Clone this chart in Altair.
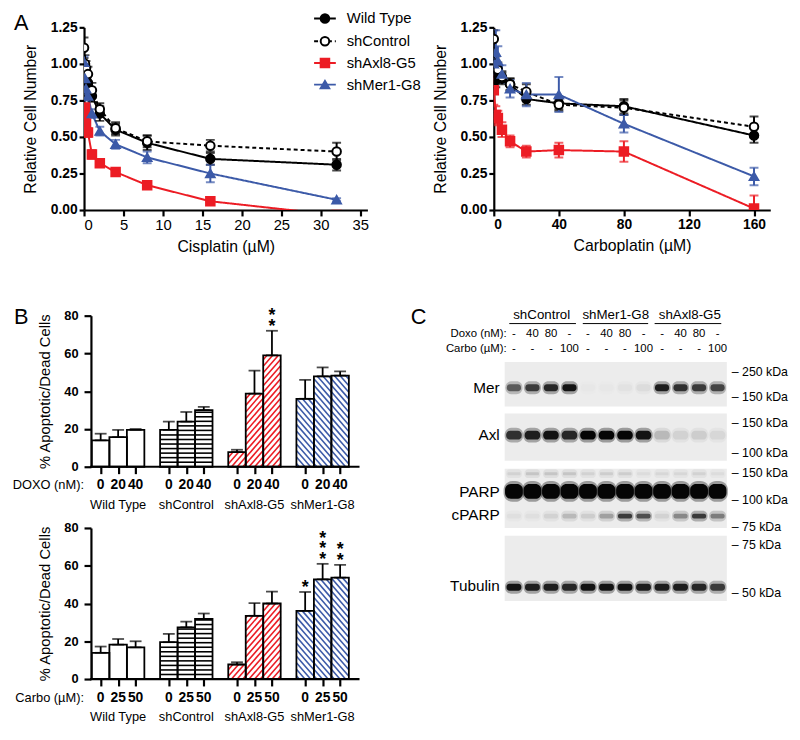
import altair as alt
import pandas as pd

FONT = "Liberation Sans"
RED = "#ec1c24"
BLUE = "#3c5aa8"

# ---------------- Panel A data ----------------
SERIES = ["Wild Type", "shControl", "shAxl8-G5", "shMer1-G8"]
S_COLORS = ["#000000", "#000000", RED, BLUE]
S_FILLS = ["#000000", "#ffffff", RED, BLUE]
S_SHAPES = ["circle", "circle", "square", "triangle-up"]
S_DASH = [[1, 0], [4, 3], [1, 0], [1, 0]]

cis_dose = [0, 0.125, 0.25, 0.5, 1, 2, 4, 8, 16, 32]
cis_wt = [1.00, 0.93, 0.90, 0.87, 0.78, 0.66, 0.55, 0.46, 0.35, 0.31]
cis_ctl = [1.11, 1.00, 0.97, 0.93, 0.82, 0.69, 0.56, 0.47, 0.44, 0.40]
cis_axl = [0.65, 0.70, 0.59, 0.53, 0.38, 0.32, 0.26, 0.17, 0.06, -0.035]
cis_mer = [1.01, 0.90, 0.83, 0.78, 0.66, 0.54, 0.45, 0.36, 0.25, 0.07]
cis_wt_e = [0.10, 0.06, 0.05, 0.05, 0.04, 0.05, 0.04, 0.05, 0.04, 0.04]
cis_ctl_e = [0.07, 0.06, 0.05, 0.05, 0.05, 0.04, 0.04, 0.04, 0.04, 0.06]
cis_axl_e = [0.04, 0.03, 0.03, 0.03, 0.03, 0.02, 0.02, 0.01, 0.01, 0.01]
cis_mer_e = [0.04, 0.05, 0.04, 0.03, 0.03, 0.03, 0.03, 0.04, 0.06, 0.01]

car_dose = [0, 1.25, 2.5, 5, 10, 20, 40, 80, 160]
car_wt = [1.00, 0.89, 0.93, 0.90, 0.86, 0.76, 0.73, 0.71, 0.51]
car_ctl = [1.17, 1.00, 0.96, 0.91, 0.86, 0.81, 0.72, 0.70, 0.57]
car_axl = [0.82, 0.65, 0.63, 0.55, 0.47, 0.40, 0.41, 0.40, 0.01]
car_mer = [1.00, 1.08, 1.02, 0.93, 0.83, 0.79, 0.79, 0.59, 0.23]
car_wt_e = [0.05, 0.05, 0.05, 0.04, 0.04, 0.04, 0.04, 0.05, 0.05]
car_ctl_e = [0.06, 0.05, 0.05, 0.04, 0.04, 0.05, 0.04, 0.05, 0.07]
car_axl_e = [0.10, 0.06, 0.05, 0.05, 0.04, 0.04, 0.05, 0.07, 0.09]
car_mer_e = [0.04, 0.15, 0.10, 0.06, 0.06, 0.08, 0.12, 0.06, 0.06]

# ---------------- Panel B data ----------------
GROUPS = ["Wild Type", "shControl", "shAxl8-G5", "shMer1-G8"]
G_HATCH = ["none", "horizontal", "up", "down"]
G_HCOLOR = ["#000000", "#000000", RED, BLUE]
doxo_doses = ["0", "20", "40"]
doxo_vals = [[14.0, 15.7, 19.5], [19.5, 23.9, 30.0], [7.8, 38.7, 59.0], [36.0, 47.9, 48.3]]
doxo_errs = [[3.5, 3.8, 0.5], [4.4, 5.1, 1.7], [1.2, 12.2, 13.0], [10.0, 4.7, 2.2]]
doxo_stars = [[0, 0, 0], [0, 0, 0], [0, 0, 2], [0, 0, 0]]
carbo_doses = ["0", "25", "50"]
carbo_vals = [[13.9, 18.2, 16.8], [19.5, 27.4, 31.8], [7.7, 33.5, 40.0], [36.1, 52.8, 53.7]]
carbo_errs = [[3.3, 3.0, 3.2], [4.4, 3.0, 2.9], [1.2, 6.7, 6.3], [10.0, 8.2, 6.8]]
carbo_stars = [[0, 0, 0], [0, 0, 0], [0, 0, 0], [1, 3, 2]]

# ---------------- Panel C data ----------------
LANES = list(range(1, 13))
C_GROUPS = ["shControl", "shMer1-G8", "shAxl8-G5"]
DOXO_ROW = ["-", "40", "80", "-"] * 3
CARBO_ROW = ["-", "-", "-", "100"] * 3
MER = [0.6, 0.75, 0.85, 0.95, 0.02, 0.02, 0.04, 0.06, 0.9, 0.8, 0.75, 0.7]
AXL = [0.8, 0.9, 0.95, 0.85, 1.0, 1.0, 1.0, 0.95, 0.2, 0.1, 0.12, 0.08]
PARP_HI = [0.1, 0.15, 0.15, 0.15, 0.1, 0.12, 0.12, 0.06, 0.08, 0.08, 0.1, 0.06]
PARP = [1.0] * 12
CPARP = [0.05, 0.05, 0.1, 0.2, 0.12, 0.3, 0.75, 0.65, 0.1, 0.4, 0.75, 0.45]
TUB = [0.95, 0.9, 0.9, 0.85, 0.95, 0.95, 0.95, 0.9, 0.9, 0.9, 0.85, 0.75]
BLOT_NAMES = ["Mer", "Axl", "PARP", "cPARP", "Tubulin"]
KDA = ["250 kDa", "150 kDa", "150 kDa", "100 kDa", "150 kDa", "100 kDa", "75 kDa", "75 kDa", "50 kDa"]


def text_layer(txt, x, y, size=13, weight="normal", align="left", baseline="middle"):
    return alt.Chart(pd.DataFrame({"t": [txt]})).mark_text(
        font=FONT, fontSize=size, fontWeight=weight, align=align, baseline=baseline, color="black"
    ).encode(text="t:N", x=alt.value(x), y=alt.value(y))


# ---------------- Panel A ----------------
def a_panel(dose, vals, errs, xdomain, xticks, xtitle, xbold, W, H, extra):
    rows = []
    for s, v, e in zip(SERIES, vals, errs):
        for d, vv, ee in zip(dose, v, e):
            rows.append(dict(series=s, dose=d, val=vv, lo=vv - ee, hi=vv + ee))
    df = pd.DataFrame(rows)
    xax = alt.Axis(values=xticks, title=xtitle, labelFontSize=15 if not xbold else 14,
                   labelFontWeight="bold" if xbold else "normal", titleFontSize=16,
                   tickSize=6, labelPadding=2, titlePadding=6)
    yax = alt.Axis(values=[0, 0.25, 0.5, 0.75, 1.0, 1.25], format=".2f", title="Relative Cell Number",
                   labelFontSize=14, labelFontWeight="bold", titleFontSize=16, tickSize=5,
                   labelPadding=2, titlePadding=12)
    xs = alt.Scale(domain=xdomain, nice=False, zero=False)
    ys = alt.Scale(domain=[0, 1.25], nice=False)

    def X(f):
        return alt.X(f, scale=xs, axis=xax, title=xtitle)

    def Y(f):
        return alt.Y(f, scale=ys, axis=yax, title="Relative Cell Number")

    col = alt.Color("series:N", scale=alt.Scale(domain=SERIES, range=S_COLORS), legend=None)
    base = alt.Chart(df)
    lines = base.mark_line(strokeWidth=2, clip=True).encode(
        x=X("dose:Q"), y=Y("val:Q"), color=col, detail="series:N",
        strokeDash=alt.StrokeDash("series:N", scale=alt.Scale(domain=SERIES, range=S_DASH), legend=None),
    )
    errb = base.mark_errorbar(ticks=True, size=9, thickness=2, clip=True).encode(
        x=X("dose:Q"), y=Y("lo:Q"), y2="hi:Q", color=col
    )
    pts = base.mark_point(size=75, strokeWidth=2, opacity=1, fillOpacity=1, clip=True).encode(
        x=X("dose:Q"), y=Y("val:Q"),
        stroke=alt.Stroke("series:N", scale=alt.Scale(domain=SERIES, range=S_COLORS), legend=None),
        fill=alt.Fill("series:N", scale=alt.Scale(domain=SERIES, range=S_FILLS), legend=None),
        shape=alt.Shape("series:N", scale=alt.Scale(domain=SERIES, range=S_SHAPES), legend=None),
    )
    return alt.layer(lines, errb, pts, *extra).properties(width=W, height=H)


legend = []
LEG_Y = [-9, 14, 36, 58]
for i, s in enumerate(SERIES):
    d = pd.DataFrame({"series": [s]})
    legend.append(alt.Chart(d).mark_rule(color=S_COLORS[i], strokeWidth=2, strokeDash=S_DASH[i]).encode(
        x=alt.value(233), x2=alt.value(255), y=alt.value(LEG_Y[i])))
    legend.append(alt.Chart(d).mark_point(shape=S_SHAPES[i], size=75, fill=S_FILLS[i], stroke=S_COLORS[i],
                                          strokeWidth=2, fillOpacity=1, opacity=1).encode(
        x=alt.value(244), y=alt.value(LEG_Y[i])))
    legend.append(alt.Chart(d).mark_text(font=FONT, fontSize=15, align="left", baseline="middle").encode(
        x=alt.value(266), y=alt.value(LEG_Y[i]), text="series:N"))

A1 = a_panel(cis_dose, [cis_wt, cis_ctl, cis_axl, cis_mer], [cis_wt_e, cis_ctl_e, cis_axl_e, cis_mer_e],
             [0, 35.9], [0, 5, 10, 15, 20, 25, 30, 35], "Cisplatin (µM)", False, 287, 185,
             legend + [text_layer("A", -71, -14, size=22, baseline="top")])
A2 = a_panel(car_dose, [car_wt, car_ctl, car_axl, car_mer], [car_wt_e, car_ctl_e, car_axl_e, car_mer_e],
             [0, 170], [0, 40, 80, 120, 160], "Carboplatin (µM)", True, 280, 185, [])

# ---------------- Panel B ----------------
SHIFT = 7  # y axis sits this far inside the plot's left edge
B_W, B_H = 272 + SHIFT, 153
GAP = 3.9
PXX = 272 / (14.81 + 0.556)
XMIN, XMAX = -0.556 - SHIFT / PXX, 14.81
PXY = B_H / 80.0


def hatch(kind, a, v, period_h=4.6, period_d=6.6, slope=1.15):
    W = PXX
    H = v * PXY
    segs = []
    if kind == "horizontal":
        w = period_h
        while w < H - 0.8:
            segs.append((a, w / PXY, a + 1, w / PXY))
            w += period_h
    elif kind in ("up", "down"):
        c = -slope * W + period_d * 0.5
        while c < H:
            u_lo = max(0.0, -c / slope)
            u_hi = min(W, (H - c) / slope)
            if u_hi > u_lo + 0.3:
                w_lo = slope * u_lo + c
                w_hi = slope * u_hi + c
                if kind == "down":
                    u_lo, u_hi = W - u_lo, W - u_hi
                segs.append((a + u_lo / PXX, w_lo / PXY, a + u_hi / PXX, w_hi / PXY))
            c += period_d
    return segs


def b_panel(doses, vals, errs, stars, dose_title, letter):
    rows, hrows, srows, grows = [], [], [], []
    for g, grp in enumerate(GROUPS):
        grows.append(dict(grp=grp, pos=g * GAP + 1))
        for i, dz in enumerate(doses):
            pos = g * GAP + i
            v, e = vals[g][i], errs[g][i]
            rows.append(dict(grp=grp, dose=dz, pos=pos, x0=pos - 0.5, x1=pos + 0.5, val=v, hi=v + e))
            for (xa, ya, xb, yb) in hatch(G_HATCH[g], pos - 0.5, v):
                hrows.append(dict(grp=grp, hx1=xa, hy1=ya, hx2=xb, hy2=yb))
            for k in range(stars[g][i]):
                srows.append(dict(pos=pos, sy=v + e + (8 + 10.5 * k) / PXY, t="*"))
    df = pd.DataFrame(rows)
    hdf = pd.DataFrame(hrows)
    xs = alt.Scale(domain=[XMIN, XMAX], nice=False, zero=False)
    ys = alt.Scale(domain=[0, 80], nice=False)
    xax = alt.Axis(values=[r["pos"] for r in rows], labels=False, ticks=True, tickSize=7, title=None,
                   domain=False)
    yax = alt.Axis(values=[0, 20, 40, 60, 80], title="% Apoptotic/Dead Cells", labelFontSize=13,
                   labelFontWeight="bold", titleFontSize=15, tickSize=7, labelPadding=6, titlePadding=11,
                   offset=-SHIFT)

    def X(f):
        return alt.X(f, scale=xs, axis=xax, title=None)

    def Y(f):
        return alt.Y(f, scale=ys, axis=yax, title="% Apoptotic/Dead Cells")

    base = alt.Chart(df)
    xline = alt.Chart(pd.DataFrame({"a": [0]})).mark_rule(color="black", strokeWidth=2.2).encode(
        x=alt.value(SHIFT - 1), x2=alt.value(B_W), y=alt.value(B_H))
    fill = base.mark_rect(fill="white").encode(x=X("x0:Q"), x2="x1:Q", y=Y("val:Q"), y2=alt.datum(0))
    hat = alt.Chart(hdf).mark_rule(strokeWidth=1.6).encode(
        x=X("hx1:Q"), x2="hx2:Q", y=Y("hy1:Q"), y2="hy2:Q",
        color=alt.Color("grp:N", scale=alt.Scale(domain=GROUPS, range=G_HCOLOR), legend=None))
    outline = base.mark_rect(fillOpacity=0, stroke="black", strokeWidth=1.8).encode(
        x=X("x0:Q"), x2="x1:Q", y=Y("val:Q"), y2=alt.datum(0))
    err = base.mark_errorbar(ticks=True, size=12, thickness=1.8, color="black").encode(
        x=X("pos:Q"), y=Y("val:Q"), y2="hi:Q")
    dl = base.mark_text(font=FONT, fontSize=14, fontWeight="bold", baseline="middle").encode(
        x=X("pos:Q"), y=alt.value(B_H + 19), text="dose:N")
    gl = alt.Chart(pd.DataFrame(grows)).mark_text(font=FONT, fontSize=13, baseline="middle").encode(
        x=X("pos:Q"), y=alt.value(B_H + 39), text="grp:N")
    layers = [fill, hat, outline, err, xline, dl, gl,
              text_layer(dose_title, SHIFT - 7, B_H + 19, size=13, align="right")]
    if srows:
        layers.append(alt.Chart(pd.DataFrame(srows)).mark_text(
            font=FONT, fontSize=18, fontWeight="bold", baseline="middle", dy=4
        ).encode(x=X("pos:Q"), y=Y("sy:Q"), text="t:N"))
    if letter:
        layers.append(text_layer(letter, SHIFT - 78, -9, size=22, baseline="top"))
    return alt.layer(*layers).properties(width=B_W, height=B_H)


B1 = b_panel(doxo_doses, doxo_vals, doxo_errs, doxo_stars, "DOXO (nM):", "B")
B2 = b_panel(carbo_doses, carbo_vals, carbo_errs, carbo_stars, "Carbo (µM):", None)

# ---------------- Panel C ----------------
C_W, C_H = 225, 289
OFF = 47  # blots start below the header rows
cx = alt.Scale(domain=[0.5, 12.5], nice=False, zero=False)
lane_df = pd.DataFrame({"lane": LANES, "doxo": DOXO_ROW, "carbo": CARBO_ROW, "Mer": MER, "Axl": AXL,
                        "PARP_HI": PARP_HI, "PARP": PARP, "cPARP": CPARP, "Tubulin": TUB})
gray = alt.Scale(domain=[0, 1], range=["#ececec", "#050505"])

c_layers = []
for top, bot in [(0, 45), (52, 100), (108, 168), (176, 242)]:
    c_layers.append(alt.Chart(pd.DataFrame({"b": [top]})).mark_rect(color="#ececec").encode(
        x=alt.value(0), x2=alt.value(C_W), y=alt.value(top + OFF), y2=alt.value(bot + OFF)))

BANDS = [("Mer", 26, 7, 0.38, 3), ("Axl", 74, 9, 0.42, 4), ("PARP_HI", 113, 3, 0.35, 1),
         ("PARP", 131, 15, 0.48, 6), ("cPARP", 156, 5, 0.38, 2), ("Tubulin", 228, 7, 0.4, 3)]
for name, yc, h, hw, cr in BANDS:
    # soft halo then core, to mimic a blotted band
    for grow, op in [(3, 0.35), (0, 1.0)]:
        c_layers.append(alt.Chart(lane_df).transform_calculate(
            l0=f"datum.lane - {hw + grow / 37.5}", l1=f"datum.lane + {hw + grow / 37.5}"
        ).mark_rect(cornerRadius=cr + grow, opacity=op).encode(
            x=alt.X("l0:Q", scale=cx, axis=None), x2="l1:Q",
            y=alt.value(yc - h / 2 - grow + OFF), y2=alt.value(yc + h / 2 + grow + OFF),
            color=alt.Color(f"{name}:Q", scale=gray, legend=None)))

c_layers.append(alt.Chart(lane_df).mark_text(font=FONT, fontSize=11.5, baseline="middle").encode(
    x=alt.X("lane:Q", scale=cx, axis=None), y=alt.value(OFF - 28), text="doxo:N"))
c_layers.append(alt.Chart(lane_df).mark_text(font=FONT, fontSize=11.5, baseline="middle").encode(
    x=alt.X("lane:Q", scale=cx, axis=None), y=alt.value(OFF - 13), text="carbo:N"))
cg = pd.DataFrame({"grp": C_GROUPS, "mid": [2.5, 6.5, 10.5], "u0": [0.75, 4.72, 8.6], "u1": [4.35, 8.25, 12.2]})
c_layers.append(alt.Chart(cg).mark_text(font=FONT, fontSize=13.5, baseline="middle").encode(
    x=alt.X("mid:Q", scale=cx, axis=None), y=alt.value(OFF - 48), text="grp:N"))
c_layers.append(alt.Chart(cg).mark_rule(color="black", strokeWidth=1).encode(
    x=alt.X("u0:Q", scale=cx, axis=None), x2="u1:Q", y=alt.value(OFF - 39)))
c_layers.append(text_layer("Doxo (nM):", 2, OFF - 28, size=11.5, align="right"))
c_layers.append(text_layer("Carbo (µM):", 2, OFF - 13, size=11.5, align="right"))
for name, yc in zip(BLOT_NAMES, [26, 74, 132, 155, 227]):
    c_layers.append(text_layer(name, -5, yc + OFF, size=15.5, align="right"))
for lab, yc in zip(KDA, [10, 35, 62, 92, 112, 140, 167, 185, 234]):
    c_layers.append(text_layer("–  " + lab, 230, yc + OFF, size=12.5))
c_layers.append(text_layer("C", -95, OFF - 56, size=22, baseline="top"))
C = alt.layer(*c_layers).properties(width=C_W, height=C_H)

row1 = alt.hconcat(A1, A2, spacing=10)
colB = alt.vconcat(B1, B2, spacing=10)
row2 = alt.hconcat(colB, C, spacing=50)
chart = alt.vconcat(row1, row2, spacing=52).properties(
    padding={"left": 4, "top": -3, "right": 0, "bottom": 0}
).configure_view(stroke=None).configure_axis(
    domainColor="black", domainWidth=2.2, tickColor="black", tickWidth=2.2, grid=False,
    labelColor="black", titleColor="black", labelFont=FONT, titleFont=FONT, titleFontWeight="normal"
)

chart.save("out.html", embed_options={"renderer": "svg", "actions": False})
